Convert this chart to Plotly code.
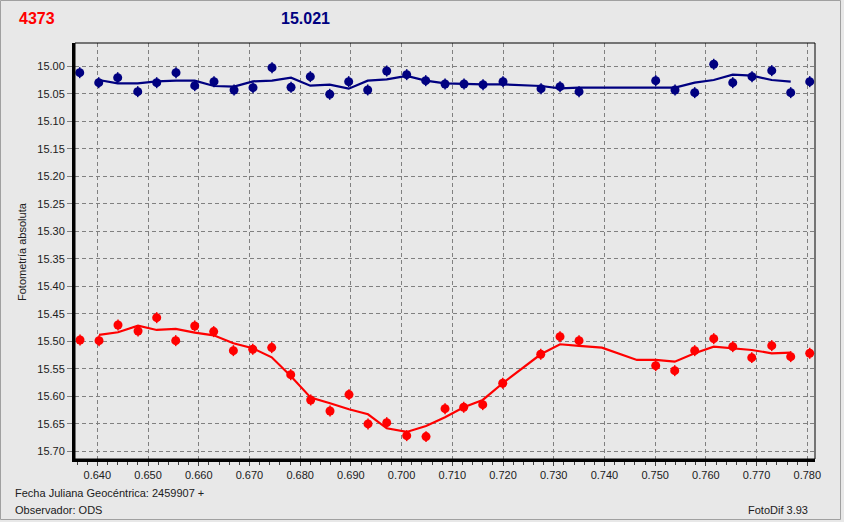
import plotly.graph_objects as go

# ---- data ----
blue_x = [0.63653, 0.64028, 0.64402, 0.64797, 0.65171, 0.65552, 0.65921, 0.66301, 0.66696,
          0.67070, 0.67445, 0.67820, 0.68200, 0.68583, 0.68957, 0.69332, 0.69707, 0.70101,
          0.70476, 0.70857, 0.71231, 0.71606, 0.72000, 0.72750, 0.73124, 0.73499,
          0.75011, 0.75392, 0.75780, 0.76155, 0.76530, 0.76910, 0.77299, 0.77673, 0.78048]
blue_y = [15.0113, 15.0295, 15.0204, 15.0458, 15.0295, 15.0113, 15.0349, 15.0276, 15.0427,
          15.0385, 15.0022, 15.0378, 15.0185, 15.0506, 15.0276, 15.0427, 15.0082, 15.0149,
          15.0258, 15.0318, 15.0318, 15.0331, 15.0276, 15.0404, 15.0367, 15.0458,
          15.0258, 15.0427, 15.0476, 14.9960, 15.0295, 15.0185, 15.0076, 15.0476, 15.0276]

blue_fit_x = [0.64028, 0.64402, 0.64797, 0.65171, 0.65552, 0.65921, 0.66301, 0.66696, 0.67070,
              0.67445, 0.67820, 0.68200, 0.68583, 0.68957, 0.69332, 0.69707, 0.70101, 0.70476,
              0.70857, 0.71231, 0.71606, 0.72000, 0.72750, 0.73124, 0.73499, 0.73950,
              0.75011, 0.75392, 0.75780, 0.76155, 0.76530, 0.76910, 0.77299, 0.77673]
blue_fit_y = [15.0246, 15.0306, 15.0306, 15.0270, 15.0258, 15.0258, 15.0355, 15.0367, 15.0270,
              15.0258, 15.0204, 15.0349, 15.0331, 15.0404, 15.0258, 15.0234, 15.0173, 15.0258,
              15.0306, 15.0318, 15.0325, 15.0325, 15.0355, 15.0397, 15.0385, 15.0385,
              15.0385, 15.0385, 15.0294, 15.0246, 15.0149, 15.0167, 15.0246, 15.0276]

red_x = [0.63659, 0.64034, 0.64408, 0.64803, 0.65171, 0.65546, 0.65921, 0.66295, 0.66683,
         0.67065, 0.67439, 0.67814, 0.68208, 0.68589, 0.68963, 0.69338, 0.69707, 0.70101,
         0.70482, 0.70857, 0.71225, 0.71600, 0.71994, 0.72744, 0.73124, 0.73499,
         0.75011, 0.75386, 0.75780, 0.76155, 0.76530, 0.76905, 0.77299, 0.77673, 0.78048]
red_y = [15.4975, 15.4987, 15.4702, 15.4811, 15.4569, 15.4987, 15.4720, 15.4823, 15.5169,
         15.5144, 15.5114, 15.5606, 15.6066, 15.6266, 15.5969, 15.6502, 15.6479, 15.6715,
         15.6733, 15.6224, 15.6199, 15.6151, 15.5762, 15.5235, 15.4915, 15.4987,
         15.5442, 15.5533, 15.5169, 15.4951, 15.5096, 15.5296, 15.5078, 15.5278, 15.5217]

red_fit_x = [0.64034, 0.64408, 0.64803, 0.65171, 0.65546, 0.65921, 0.66295, 0.66683, 0.67065,
             0.67439, 0.67814, 0.68208, 0.68589, 0.68963, 0.69338, 0.69707, 0.70101, 0.70482,
             0.70857, 0.71225, 0.71600, 0.71994, 0.72744, 0.73124, 0.73499, 0.73950, 0.74640,
             0.75011, 0.75386, 0.75780, 0.76155, 0.76530, 0.76905, 0.77299, 0.77673]
red_fit_y = [15.4883, 15.4835, 15.4714, 15.4793, 15.4775, 15.4842, 15.4890, 15.5035, 15.5126,
             15.5290, 15.5629, 15.6024, 15.6126, 15.6235, 15.6326, 15.6581, 15.6648, 15.6539,
             15.6381, 15.6199, 15.6066, 15.5762, 15.5235, 15.5053, 15.5084, 15.5114, 15.5338,
             15.5338, 15.5369, 15.5217, 15.5096, 15.5126, 15.5157, 15.5217, 15.5205]

title_left = "4373"
title_mid = "15.021"
y_title = "Fotometría absoluta"
x_note = "Fecha Juliana Geocéntrica: 2459907 +"
observer = "Observador: ODS"
software = "FotoDif 3.93"

RED = "#FF0000"
NAVY = "#000080"
BG = "#E8E8E8"
FONT = "Liberation Sans, Arial, sans-serif"

W, H = 844, 522
ML, MR, MT, MB = 75, 29, 43, 63
PW, PH = W - ML - MR, H - MT - MB


def px(x):
    return (x - ML) / PW


def py(y):
    return (H - MB - y) / PH


fig = go.Figure()

for fx, fy, c in [(blue_fit_x, blue_fit_y, NAVY), (red_fit_x, red_fit_y, RED)]:
    fig.add_trace(go.Scatter(x=fx, y=fy, mode="lines",
                             line=dict(color=c, width=2.2), hoverinfo="skip"))

for dx, dy, c in [(blue_x, blue_y, NAVY), (red_x, red_y, RED)]:
    fig.add_trace(go.Scatter(x=dx, y=dy, mode="markers",
                             marker=dict(color=c, size=9, symbol="circle", line=dict(width=0)),
                             error_y=dict(type="constant", value=0.010, color=c,
                                          thickness=1.5, width=0)))

grid = dict(gridcolor="#808080", gridwidth=1, griddash="4px,3px")

fig.update_xaxes(range=[0.6356, 0.78152], dtick=0.01, tick0=0.64, tickformat=".3f",
                 showline=True, linecolor="black", linewidth=3, mirror=False,
                 ticks="outside", ticklen=4, tickcolor="#404040", zeroline=False,
                 tickfont=dict(family=FONT, size=11, color="#202020"),
                 minor=dict(dtick=0.002, ticks="outside", ticklen=3, tickcolor="#404040",
                            showgrid=False),
                 **grid)
fig.update_yaxes(range=[15.7140, 14.9573], dtick=0.05, tick0=15.0, tickformat=".2f",
                 showline=True, linecolor="black", linewidth=3, mirror=False,
                 ticks="outside", ticklen=5, tickcolor="#808080", zeroline=False,
                 tickfont=dict(family=FONT, size=11, color="#202020"),
                 **grid)

shapes = [
    dict(type="rect", xref="paper", yref="paper", x0=0, x1=1, y0=0, y1=1,
         line=dict(color="black", width=1), layer="above"),
    dict(type="rect", xref="paper", yref="paper", x0=px(0.5), x1=px(840.5),
         y0=py(0.5), y1=py(519.5), line=dict(color="#A0A0A0", width=1), layer="below"),
]

annotations = [
    dict(text="<b>%s</b>" % title_left, x=px(17), y=py(18), xanchor="left", yanchor="middle",
         font=dict(family=FONT, size=16, color=RED)),
    dict(text="<b>%s</b>" % title_mid, x=px(279), y=py(18), xanchor="left", yanchor="middle",
         font=dict(family=FONT, size=16, color=NAVY)),
    dict(text=y_title, x=px(22), y=py(252), textangle=-90, xanchor="center", yanchor="middle",
         font=dict(family=FONT, size=11, color="#202020")),
    dict(text=x_note, x=px(13), y=py(493), xanchor="left", yanchor="middle",
         font=dict(family=FONT, size=11, color="#202020")),
    dict(text=observer, x=px(13), y=py(510), xanchor="left", yanchor="middle",
         font=dict(family=FONT, size=11, color="#202020")),
    dict(text=software, x=px(810), y=py(510), xanchor="right", yanchor="middle",
         font=dict(family=FONT, size=11, color="#202020")),
]
for a in annotations:
    a.update(xref="paper", yref="paper", showarrow=False)

fig.update_layout(width=W, height=H, margin=dict(l=ML, r=MR, t=MT, b=MB),
                  paper_bgcolor=BG, plot_bgcolor=BG, showlegend=False,
                  shapes=shapes, annotations=annotations)

fig.write_html("out.html", config={"displayModeBar": False},
               post_script="document.body.style.margin='0';document.body.style.overflow='hidden';")
